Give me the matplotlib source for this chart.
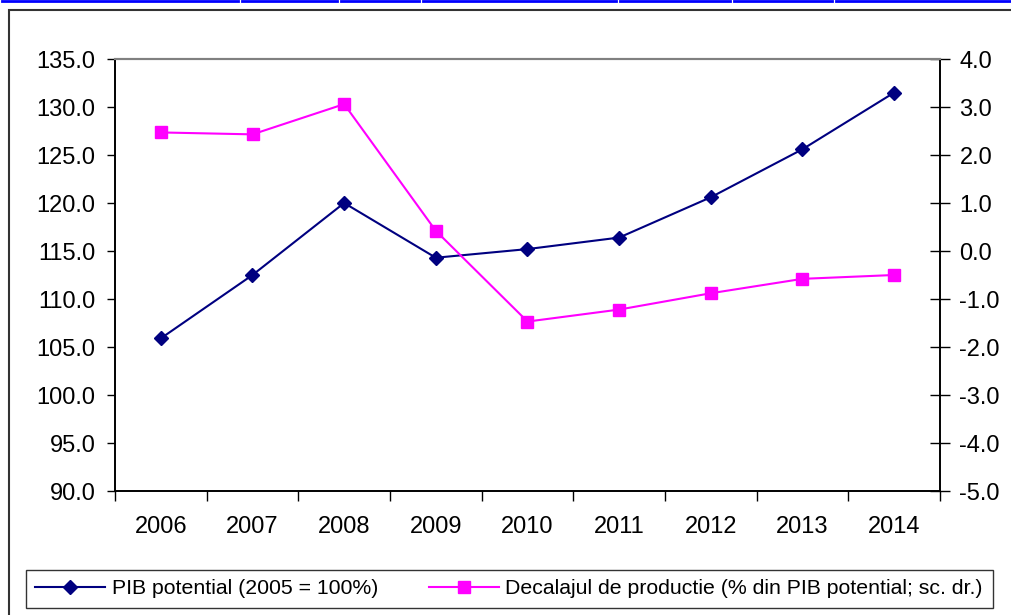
import numpy as np
import matplotlib
matplotlib.use("Agg")
import matplotlib.pyplot as plt
from matplotlib.lines import Line2D
from matplotlib.patches import Rectangle

plt.rcParams["font.family"] = ["Liberation Sans", "DejaVu Sans"]

years = ["2006", "2007", "2008", "2009", "2010", "2011", "2012", "2013", "2014"]
pib_potential = [105.9, 112.5, 120.0, 114.3, 115.2, 116.4, 120.6, 125.6, 131.5]
output_gap = [2.47, 2.43, 3.06, 0.42, -1.47, -1.22, -0.88, -0.58, -0.50]

label_pib = "PIB potential (2005 = 100%)"
label_gap = "Decalajul de productie (% din PIB potential; sc. dr.)"

NAVY = "#000080"
MAGENTA = "#FF00FF"

fig = plt.figure(figsize=(10.12, 6.15), dpi=100)

# outer chart frame (partly cut off at the right/bottom like the source)
fig.add_artist(Rectangle((9 / 1012, -0.05), 1.1, 1 - 10 / 615 + 0.05,
                         transform=fig.transFigure, fill=False,
                         edgecolor="#333333", linewidth=1.5))
# blue top strip with small gaps
gaps = [0, 240, 339, 421, 618, 732, 834, 1012]
for a, b in zip(gaps[:-1], gaps[1:]):
    fig.add_artist(Line2D([(a + 2) / 1012, (b - 2) / 1012], [0.999, 0.999],
                          transform=fig.transFigure, color="#0000FF", linewidth=2))

ax = fig.add_axes([115 / 1012, 1 - 491 / 615, 825 / 1012, 432 / 615])
ax2 = ax.twinx()

x = np.arange(len(years))
ax.plot(x, pib_potential, color=NAVY, marker="D", markersize=7, linewidth=1.5, zorder=3)
ax2.plot(x, output_gap, color=MAGENTA, marker="s", markersize=9, linewidth=1.5, zorder=3)

ax.set_xlim(-0.5, len(years) - 0.5)
ax.set_ylim(90, 135)
ax2.set_ylim(-5, 4)
ax.set_yticks(np.arange(90, 135.1, 5))
ax.set_yticklabels([f"{v:.1f}" for v in np.arange(90, 135.1, 5)])
ax2.set_yticks(np.arange(-5, 4.1, 1))
ax2.set_yticklabels([f"{v:.1f}" for v in np.arange(-5, 4.1, 1)])

# category labels centered, tick marks on category boundaries
ax.set_xticks(np.arange(-0.5, len(years), 1))
ax.set_xticklabels([])
ax.set_xticks(x, minor=True)
ax.set_xticklabels(years, minor=True)
ax.tick_params(axis="x", which="major", direction="out", length=7, width=1)
ax.tick_params(axis="x", which="minor", length=0, pad=18, labelsize=17)
ax.tick_params(axis="y", direction="out", length=6, width=1, labelsize=17, pad=8)
ax2.tick_params(axis="y", direction="inout", length=14, width=1, labelsize=17, pad=7)

for a in (ax, ax2):
    a.spines["top"].set_color("#808080")
    a.spines["top"].set_linewidth(1.5)
    for s in ("left", "right", "bottom"):
        a.spines[s].set_linewidth(1.2)

handles = [
    Line2D([], [], color=NAVY, marker="D", markersize=7, linewidth=1.5),
    Line2D([], [], color=MAGENTA, marker="s", markersize=9, linewidth=1.5),
]
leg = fig.legend(handles, [label_pib, label_gap], loc="center",
                 bbox_to_anchor=(509 / 1012, 1 - 589 / 615), ncol=2,
                 fontsize=15.3, frameon=True, fancybox=False, edgecolor="black",
                 handlelength=3.3, handletextpad=0.3, columnspacing=2.4,
                 borderpad=0.45)
leg.get_frame().set_linewidth(1.0)

fig.savefig("out.png", dpi=100)
